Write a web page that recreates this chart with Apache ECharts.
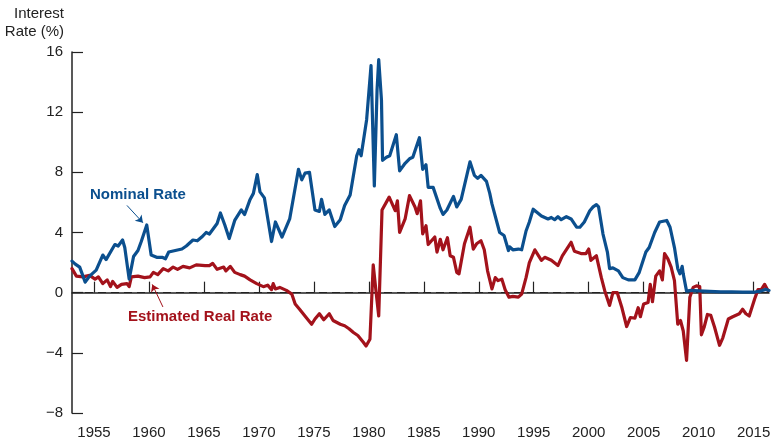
<!DOCTYPE html>
<html>
<head>
<meta charset="utf-8">
<script src="https://cdn.jsdelivr.net/npm/echarts@6/dist/echarts.min.js"></script>
<style>
html,body{margin:0;padding:0;background:#fff;}
#c{width:780px;height:448px;}
</style>
</head>
<body>
<div id="c"></div>
<script>
// ---- data ----
var xTicks = [1955, 1960, 1965, 1970, 1975, 1980, 1985, 1990, 1995, 2000, 2005, 2010, 2015];
var yTicks = [-8, -4, 0, 4, 8, 12, 16];

var nominalYears = [1953.0,1953.3,1953.7,1954.2,1954.6,1955.2,1955.8,1956.1,1956.9,1957.2,1957.6,1957.8,1958.2,1958.6,1959.0,1959.3,1959.8,1960.2,1960.7,1961.2,1961.5,1961.8,1963.0,1963.4,1964.0,1964.4,1964.8,1965.2,1965.5,1966.2,1966.5,1966.9,1967.3,1967.8,1968.4,1968.7,1969.2,1969.5,1969.85,1970.1,1970.5,1971.15,1971.5,1972.1,1972.8,1973.6,1973.9,1974.2,1974.6,1975.1,1975.5,1975.7,1976.0,1976.4,1976.9,1977.4,1977.8,1978.3,1978.9,1979.1,1979.3,1979.8,1980.2,1980.5,1980.75,1980.9,1981.15,1981.25,1981.6,1981.9,1982.5,1982.8,1983.3,1983.7,1984.0,1984.6,1984.9,1985.2,1985.4,1985.85,1986.5,1986.75,1987.1,1987.7,1988.0,1988.4,1989.2,1989.6,1989.9,1990.2,1990.7,1991.0,1991.2,1991.9,1992.3,1992.7,1992.8,1993.1,1993.6,1993.9,1994.3,1994.6,1994.95,1995.1,1995.7,1996.3,1996.6,1996.9,1997.2,1997.5,1997.97,1998.4,1998.9,1999.2,1999.6,2000.1,2000.4,2000.7,2000.9,2001.3,2001.7,2001.9,2002.2,2002.7,2003.1,2003.6,2004.2,2004.6,2005.2,2005.5,2006.0,2006.45,2007.1,2007.4,2007.8,2008.1,2008.3,2008.5,2008.6,2008.9,2009.3,2010.0,2011.0,2012.0,2013.0,2014.0,2015.0,2015.6,2015.8,2016.1,2016.4];
var nominalRate = [2.1,1.9,1.7,0.7,1.1,1.5,2.5,2.2,3.2,3.1,3.5,3.0,0.9,2.4,2.8,3.4,4.5,2.5,2.35,2.35,2.25,2.7,2.9,3.1,3.5,3.45,3.7,4.0,3.9,4.6,5.3,4.5,3.6,4.8,5.5,5.2,6.2,6.6,7.85,6.7,6.3,3.4,4.7,3.7,4.9,8.2,7.5,7.95,8.0,5.5,5.4,6.2,5.2,5.5,4.4,4.85,5.8,6.5,9.1,9.5,9.1,11.5,15.1,7.1,13.5,15.5,12.8,8.8,9.0,9.1,10.5,8.1,8.6,8.9,9.0,10.3,8.2,8.5,7.0,7.0,5.6,5.2,5.5,6.4,5.7,6.2,8.7,7.8,7.6,7.8,7.4,6.6,5.9,4.0,3.8,2.8,3.05,2.85,2.9,2.85,4.1,4.7,5.55,5.6,5.1,4.9,5.0,4.85,5.05,4.85,5.05,4.9,4.35,4.35,4.7,5.45,5.7,5.85,5.7,3.9,2.7,1.6,1.65,1.45,1.0,0.85,0.85,1.35,2.7,3.0,4.0,4.7,4.8,4.35,3.0,1.6,1.25,1.75,1.25,0.1,0.15,0.12,0.08,0.05,0.06,0.04,0.03,0.1,0.15,0.22,0.15];

var realYears = [1953.0,1953.4,1954.0,1954.6,1955.1,1955.4,1955.8,1956.2,1956.5,1956.7,1957.1,1957.5,1958.0,1958.2,1958.4,1959.0,1959.6,1960.1,1960.4,1960.8,1961.3,1961.75,1962.2,1962.6,1963.1,1963.7,1964.3,1965.1,1965.5,1965.8,1966.2,1966.8,1967.0,1967.4,1967.8,1968.3,1968.7,1969.2,1969.8,1970.4,1970.8,1971.15,1971.3,1971.5,1971.9,1972.5,1973.0,1973.3,1973.7,1974.3,1974.8,1975.1,1975.5,1975.9,1976.4,1976.75,1977.4,1977.8,1978.2,1978.6,1979.0,1979.5,1979.75,1980.1,1980.4,1980.65,1980.9,1981.2,1981.85,1982.4,1982.6,1982.8,1983.3,1983.7,1984.2,1984.4,1984.7,1984.9,1985.2,1985.4,1985.7,1986.0,1986.2,1986.5,1986.75,1987.15,1987.4,1987.7,1988.0,1988.2,1988.7,1989.2,1989.5,1989.8,1990.2,1990.5,1990.8,1991.2,1991.5,1991.75,1992.1,1992.4,1992.75,1993.1,1993.6,1993.9,1994.3,1994.6,1995.1,1995.7,1996.0,1996.6,1997.2,1997.6,1998.4,1998.7,1999.3,1999.75,2000.0,2000.2,2000.7,2001.15,2001.45,2001.9,2002.2,2002.6,2003.0,2003.45,2003.8,2004.2,2004.5,2004.7,2005.0,2005.4,2005.6,2005.8,2006.1,2006.45,2006.7,2006.9,2007.2,2007.5,2007.8,2008.1,2008.35,2008.6,2008.9,2009.2,2009.5,2009.8,2010.1,2010.25,2010.5,2010.8,2011.1,2011.45,2011.9,2012.2,2012.7,2013.1,2013.7,2014.0,2014.3,2014.6,2015.1,2015.4,2015.7,2016.0,2016.3];
var realRate = [1.6,1.1,1.05,1.15,0.9,1.05,0.6,0.85,0.4,0.75,0.35,0.55,0.6,0.4,1.05,1.1,1.0,1.05,1.35,1.2,1.6,1.45,1.7,1.55,1.75,1.65,1.85,1.8,1.8,1.95,1.55,1.7,1.45,1.75,1.35,1.2,1.1,0.85,0.6,0.4,0.5,0.2,0.6,0.25,0.35,0.15,-0.1,-0.75,-1.1,-1.65,-2.1,-1.75,-1.4,-1.8,-1.4,-1.85,-2.1,-2.2,-2.4,-2.65,-2.85,-3.3,-3.55,-3.1,1.85,0.1,-1.55,5.5,6.35,5.45,6.1,4.0,4.9,6.45,5.7,5.25,6.1,3.9,4.45,3.2,3.45,3.7,2.7,3.55,2.85,3.65,2.45,2.35,1.35,1.25,3.25,4.35,2.9,3.25,3.45,2.85,1.45,0.25,1.0,0.8,0.9,0.2,-0.3,-0.25,-0.3,-0.1,1.0,2.0,2.85,2.15,2.35,2.15,1.8,2.45,3.35,2.75,2.6,2.6,2.9,2.15,2.45,1.0,0.15,-0.85,0.0,0.0,-0.95,-2.25,-1.65,-1.7,-1.0,-1.6,-0.75,-0.65,0.55,-0.6,1.1,1.45,0.85,2.6,2.25,1.7,0.8,-2.1,-1.85,-2.55,-4.5,-0.3,0.35,0.45,0.4,-2.8,-2.3,-1.45,-1.5,-2.3,-3.5,-3.0,-1.75,-1.6,-1.4,-1.1,-1.4,-1.55,-0.4,0.2,0.2,0.55,0.15];

var nominalLabel = 'Nominal Rate';
var realLabel = 'Estimated Real Rate';
var titleLines = ['Interest', 'Rate (%)'];

// ---- chart ----
var BLUE = '#0b4f8e';
var RED = '#a3121b';
function pairs(xs, ys){ return xs.map(function(x,i){ return [x, ys[i]]; }); }

var chart = echarts.init(document.getElementById('c'), null, {renderer:'canvas'});
var FONT = 'Liberation Sans, Arial, Helvetica, sans-serif';

chart.setOption({
  animation: false,
  backgroundColor: '#fff',
  grid: { left: 72, right: 11, top: 52, bottom: 35, containLabel: false },
  xAxis: {
    type: 'value', min: 1953, max: 2016.4,
    axisLine: { show: true, lineStyle: { color: '#222', width: 1.5 } },
    axisTick: { show: true, inside: true, length: 11, lineStyle: { color: '#222', width: 1.2 }, customValues: xTicks },
    axisLabel: { customValues: xTicks, color: '#222', fontSize: 15, fontFamily: FONT, margin: 12, formatter: function(v){ return String(v); } },
    splitLine: { show: false }
  },
  yAxis: {
    type: 'value', min: -8, max: 16, interval: 4,
    axisLine: { show: true, onZero: false, lineStyle: { color: '#222', width: 1.5 } },
    axisTick: { show: true, inside: true, length: 11, lineStyle: { color: '#222', width: 1.2 } },
    axisLabel: { color: '#222', fontSize: 15, fontFamily: FONT, margin: 9,
      formatter: function(v){ return v < 0 ? '\u2212' + Math.abs(v) : String(v); } },
    splitLine: { show: false }
  },
  series: [
    {
      type: 'line', name: realLabel, data: pairs(realYears, realRate),
      showSymbol: false, symbol: 'none', smooth: false,
      lineStyle: { color: RED, width: 3.2, join: 'round', cap: 'round' },
      z: 3,
      markLine: {
        silent: true, symbol: ['none','none'], label: { show: false },
        data: [ { yAxis: 0, lineStyle: { color: '#222', width: 1.2, type: [8,5] } } ],
        animation: false, z: 1
      }
    },
    {
      type: 'line', name: nominalLabel, data: pairs(nominalYears, nominalRate),
      showSymbol: false, symbol: 'none', smooth: false,
      lineStyle: { color: BLUE, width: 3.2, join: 'round', cap: 'round' },
      z: 4,
      markLine: {
        silent: true, label: { show: false }, animation: false,
        symbol: ['none', 'arrow'], symbolSize: 7,
        data: [
          [ { coord: [1958.0, 5.8], lineStyle: { color: BLUE, width: 1, type: 'solid' }, itemStyle: { color: BLUE } },
            { coord: [1959.45, 4.65] } ],
          [ { coord: [1961.27, -0.95], lineStyle: { color: RED, width: 1, type: 'solid' }, itemStyle: { color: RED } },
            { coord: [1960.3, 0.55] } ]
        ]
      }
    }
  ],
  graphic: [
    { type: 'text', right: 780 - 64, top: 6, style: { text: titleLines[0], font: '15px ' + FONT, fill: '#222' } },
    { type: 'text', right: 780 - 64, top: 24, style: { text: titleLines[1], font: '15px ' + FONT, fill: '#222' } },
    { type: 'text', left: 90, top: 187, style: { text: nominalLabel, font: 'bold 15px ' + FONT, fill: BLUE } },
    { type: 'text', left: 128, top: 309, style: { text: realLabel, font: 'bold 15px ' + FONT, fill: RED } }
  ]
});
</script>
</body>
</html>
